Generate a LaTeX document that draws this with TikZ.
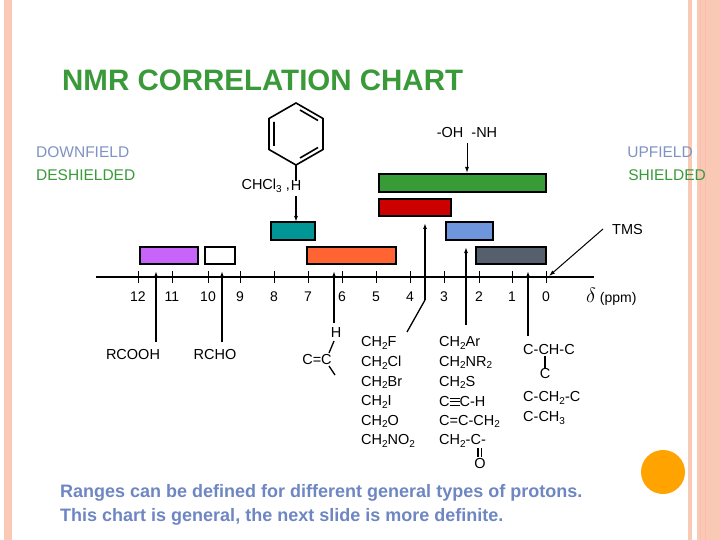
\documentclass[tikz,border=0pt]{standalone}
\usepackage{fontspec}
\setmainfont{Liberation Sans}
\usetikzlibrary{arrows.meta}
\definecolor{tgreen}{HTML}{3A9A3A}
\definecolor{tgray}{HTML}{7F93C2}
\definecolor{pinkb}{HTML}{F9C9B6}
\newcommand{\sbx}[1]{\raisebox{-2.5pt}{\fontsize{10}{10}\selectfont #1}}
\begin{document}
\begin{tikzpicture}[x=1pt,y=-1pt,
  bar/.style={draw=black,line width=1.2pt},
  lbl/.style={font=\fontsize{14.5}{16}\selectfont,inner sep=0pt},
  num/.style={font=\fontsize{14}{16}\selectfont,inner sep=0pt},
  arr/.style={line width=1.3pt,-{Latex[length=6pt,width=4pt]}},
  ln/.style={line width=1.3pt}]
\useasboundingbox (0,0) rectangle (720,540);
\fill[white] (0,0) rectangle (720,540);
% borders
\fill[pinkb] (4,0) rectangle (12,540);
\fill[pinkb] (688,0) rectangle (720,540);
\fill[white] (692,0) rectangle (697,540);
\draw[pinkb!70!red!60,line width=0.6pt] (700,0)--(700,540) (705,0)--(705,540);
% title
\node[anchor=west,text=tgreen,font=\bfseries\fontsize{29.5}{32}\selectfont,inner sep=0pt] (title) at (62,80) {NMR CORRELATION CHART};
\node[anchor=west,text=tgray,font=\fontsize{15.5}{16}\selectfont,inner sep=0pt] (dn) at (36,152) {DOWNFIELD};
\node[anchor=west,text=tgreen,font=\fontsize{15.5}{16}\selectfont,inner sep=0pt] (ds) at (36,175) {DESHIELDED};
\node[anchor=east,text=tgray,font=\fontsize{15.5}{16}\selectfont,inner sep=0pt] (up) at (693,152) {UPFIELD};
\node[anchor=east,text=tgreen,font=\fontsize{15.5}{16}\selectfont,inner sep=0pt] (sh) at (706,175) {SHIELDED};
% axis
\draw[ln] (96,277) -- (594,277);
\foreach \v/\x in {12/138,11/172,10/208,9/240,8/274,7/308,6/342,5/376,4/410,3/444,2/479,1/512,0/546}{
  \draw[line width=1pt] (\x,271) -- (\x,283);
  \node[num] (n\v) at (\x,297) {\v};
}
\node[num,anchor=west] (ppm) at (586,297) {{\fontsize{20}{20}\selectfont$\delta$} (ppm)};
% bars
\draw[bar,fill={rgb,255:red,200;green,100;blue,250}] (140,247) rectangle (198,264);
\draw[bar,fill=white] (205,247) rectangle (235,264);
\draw[bar,fill={rgb,255:red,255;green,100;blue,50}] (307,247) rectangle (396,264);
\draw[bar,fill={rgb,255:red,85;green,95;blue,110}] (476,247) rectangle (546,264);
\draw[bar,fill={rgb,255:red,0;green,150;blue,150}] (271,222) rectangle (315,240);
\draw[bar,fill={rgb,255:red,110;green,150;blue,220}] (446,222) rectangle (493,240);
\draw[bar,fill={rgb,255:red,205;green,0;blue,0}] (379,199) rectangle (451,216);
\draw[bar,fill={rgb,255:red,55;green,155;blue,55}] (379,174) rectangle (546,192);
% benzene
\draw[line width=1.6pt] (296,103) -- (323,118.5) -- (323,149.5) -- (296,165) -- (269,149.5) -- (269,118.5) -- cycle;
\draw[line width=1.6pt] (300,110) -- (318,120.5) (318,147.5) -- (300,158) (274,122) -- (274,146);
\node[lbl] (H1) at (296,186) {H};
\draw[ln] (296,165) -- (H1.north);
\node[lbl,anchor=east] (chcl) at (290,186) {CHCl\sbx{3} ,};
\coordinate (ha) at (296,196);
\draw[arr] (ha) -- (296,222);
% OH NH
\node[lbl] (ohnh) at (467,133) {-OH\ \ -NH};
\coordinate (ohs) at (467,143);
\draw[arr,line width=1pt] (ohs) -- (467,173);
% TMS
\node[lbl,anchor=west] (tms) at (612,230) {TMS};
\coordinate (tmsa) at (603,229);
\draw[arr,line width=1pt] (tmsa) -- (549,276);
% lower labels
\node[lbl] (rcooh) at (133,355) {RCOOH};
\node[lbl] (rcho) at (215,355) {RCHO};
\draw[arr] (156,342) -- (156,271);
\draw[arr] (222,342) -- (222,271);
% C=C
\node[lbl] (cc) at (317,360) {C=C};
\node[lbl] (Hc) at (336,333) {H};
\draw[arr] (334,323) -- (334,271);
\draw[ln] (329,353) -- (334,341);
\draw[ln] (329,366) -- (335,375);
% halides
\coordinate (hx) at (407,332);
\draw[ln] (hx) -- (425,300);
\draw[arr] (425,300) -- (425,223);
\foreach \t [count=\i] in {CH\sbx{2}F,CH\sbx{2}Cl,CH\sbx{2}Br,CH\sbx{2}I,CH\sbx{2}O,CH\sbx{2}NO\sbx{2}}
  \node[lbl,anchor=west] (h\i) at (361,{343+19.6*(\i-1)}) {\t};
% allylic etc
\draw[arr] (466,325) -- (466,247);
\node[lbl,anchor=west] (a1) at (439,343) {CH\sbx{2}Ar};
\node[lbl,anchor=west] (a2) at (439,362.6) {CH\sbx{2}NR\sbx{2}};
\node[lbl,anchor=west] (a3) at (439,382.2) {CH\sbx{2}S};
\node[lbl,anchor=west] (a4) at (439,401.8) {C\rule[1pt]{10pt}{1.2pt}\hspace{-10pt}\rule[4.5pt]{10pt}{1.2pt}\hspace{-10pt}\rule[8pt]{10pt}{1.2pt}C-H};
\node[lbl,anchor=west] (a5) at (439,421.4) {C=C-CH\sbx{2}};
\node[lbl,anchor=west] (a6) at (439,441) {CH\sbx{2}-C-};
\node[lbl] (o1) at (480,464) {O};
\draw[line width=1.1pt] (478,448) -- (478,457) (481.5,448) -- (481.5,457);
% alkyl
\draw[arr] (528,336) -- (528,271);
\node[lbl,anchor=west] (b1) at (523,350) {C-CH-C};
\node[lbl] (b2) at (545,374) {C};
\draw[ln] (545,356) -- (b2.north);
\node[lbl,anchor=west] (b3) at (523,398) {C-CH\sbx{2}-C};
\node[lbl,anchor=west] (b4) at (523,418) {C-CH\sbx{3}};
% bottom text
\node[anchor=west,text={rgb,255:red,110;green,135;blue,195},font=\bfseries\fontsize{18}{20}\selectfont,inner sep=0pt] (t1) at (60,493) {Ranges can be defined for different general types of protons.};
\node[anchor=west,text={rgb,255:red,110;green,135;blue,195},font=\bfseries\fontsize{18}{20}\selectfont,inner sep=0pt] (t2) at (60,517) {This chart is general, the next slide is more definite.};
\fill[orange!80!red!60!yellow] (663,472) circle (22);
\end{tikzpicture}
\end{document}
